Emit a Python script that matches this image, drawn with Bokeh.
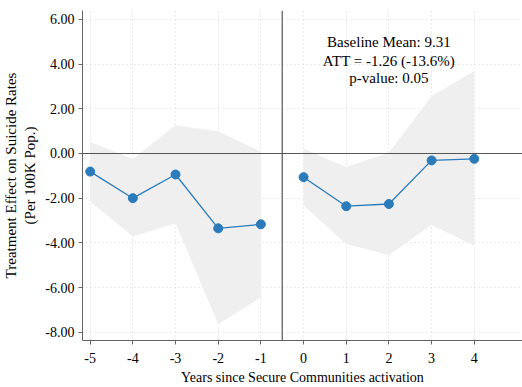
from bokeh.plotting import figure
from bokeh.models import Span, Range1d, FixedTicker, PrintfTickFormatter, ColumnDataSource
from bokeh.core.properties import value
from bokeh.embed import file_html
from bokeh.resources import INLINE

# data
pre_years = [-5, -4, -3, -2, -1]
pre_est = [-0.81, -2.00, -0.94, -3.35, -3.17]
pre_hi = [0.51, -0.24, 1.26, 0.99, 0.09]
pre_lo = [-2.15, -3.72, -3.12, -7.64, -6.44]

post_years = [0, 1, 2, 3, 4]
post_est = [-1.06, -2.36, -2.26, -0.31, -0.24]
post_hi = [0.21, -0.61, 0.03, 2.57, 3.69]
post_lo = [-2.33, -4.05, -4.54, -3.20, -4.13]

x_ticks = [-5, -4, -3, -2, -1, 0, 1, 2, 3, 4]
y_ticks = [-8, -6, -4, -2, 0, 2, 4, 6]
annot_lines = ["Baseline Mean: 9.31", "ATT = -1.26 (-13.6%)", "p-value: 0.05"]
annot_x = 2.0
annot_y = [4.97, 4.12, 3.37]

FONT = "Liberation Serif"
BLUE = "#2b7bba"
BAND = "#efefef"

p = figure(width=522, height=387, output_backend="svg", toolbar_location=None,
           x_range=Range1d(-5.18, 5.13), y_range=Range1d(-8.37, 6.4),
           min_border_left=81, min_border_right=0, min_border_top=10, min_border_bottom=47)
p.outline_line_color = None
p.background_fill_color = "white"
p.border_fill_color = "white"

# bands
p.varea(x=pre_years, y1=pre_lo, y2=pre_hi, fill_color=BAND)
p.varea(x=post_years, y1=post_lo, y2=post_hi, fill_color=BAND)

# reference lines
p.add_layout(Span(location=0, dimension="width", line_color="#555555", line_width=1.2))
p.add_layout(Span(location=-0.5, dimension="height", line_color="#555555", line_width=1.2))

# estimates
for xs, ys in [(pre_years, pre_est), (post_years, post_est)]:
    p.line(xs, ys, line_color=BLUE, line_width=1.3)
    p.scatter(xs, ys, size=9, fill_color=BLUE, line_color=BLUE)

src = ColumnDataSource(dict(x=[annot_x] * 3, y=annot_y, t=annot_lines))
p.text(x="x", y="y", text="t", source=src, text_font=value(FONT), text_font_size="15px",
       text_align="center", text_baseline="middle", text_color="black")

# axes
p.xaxis.ticker = FixedTicker(ticks=x_ticks)
p.yaxis.ticker = FixedTicker(ticks=y_ticks)
p.xaxis.formatter = PrintfTickFormatter(format="%d")
p.yaxis.formatter = PrintfTickFormatter(format="%.2f")
for ax in [p.xaxis[0], p.yaxis[0]]:
    ax.major_label_text_font = FONT
    ax.major_label_text_font_size = "14px"
    ax.major_label_text_color = "black"
    ax.axis_label_text_font = FONT
    ax.axis_label_text_font_size = "14px"
    ax.axis_label_text_font_style = "normal"
    ax.axis_label_text_color = "black"
    ax.axis_line_color = "#666666"
    ax.major_tick_line_color = "#666666"
    ax.major_tick_out = 4
    ax.major_tick_in = 0
    ax.minor_tick_line_color = None
p.yaxis.axis_label_text_font_size = "15px"
p.xaxis.axis_label = "Years since Secure Communities activation"
p.yaxis.axis_label = "Treatment Effect on Suicide Rates\n(Per 100K Pop.)"
p.xaxis.major_label_standoff = 8
p.xaxis.axis_label_standoff = 4
p.yaxis.major_label_standoff = 4
p.yaxis.axis_label_standoff = 4

p.grid.grid_line_color = "#d5d5d5"
p.grid.grid_line_dash = "1 3"
p.grid.grid_line_width = 1

open("out.html", "w").write(file_html(p, INLINE))
